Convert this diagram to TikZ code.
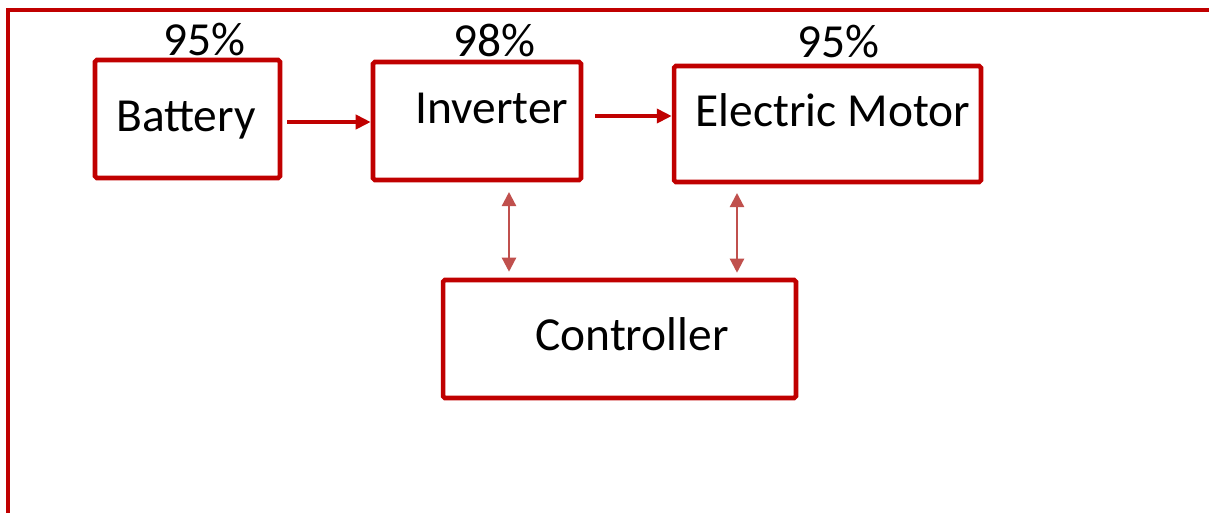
\documentclass[tikz,border=0pt]{standalone}
\usepackage{fontspec}
\setmainfont{Carlito}
\usepackage{xcolor}
\definecolor{boxred}{HTML}{C00000}
\definecolor{linkred}{HTML}{C0504D}
\usepackage{tikz}
\usetikzlibrary{arrows.meta,positioning,calc}

\begin{document}
\begin{tikzpicture}[x=0.02cm,y=-0.02cm,
    box/.style={draw=boxred,line width=2.6pt,rounded corners=1pt,inner sep=0pt},
    lbl/.style={font=\fontsize{27}{32}\selectfont,inner sep=0pt},
    flow/.style={-{Triangle[length=0.3cm,width=0.28cm]},boxred,line width=2.6pt},
    link/.style={{Triangle[length=0.28cm,width=0.28cm]}-{Triangle[length=0.28cm,width=0.28cm]},linkred,line width=1.3pt}]
  \useasboundingbox (0,0) rectangle (1209,512);
  % outer frame
  \draw[boxred,line width=2.8pt] (8,514) -- (8,10) -- (1212,10);
  % blocks
  \node[box,minimum width=3.7cm,minimum height=2.36cm] (bat) at (187.5,119) {};
  \node[box,minimum width=4.16cm,minimum height=2.36cm] (inv) at (477,121) {};
  \node[box,minimum width=6.14cm,minimum height=2.32cm] (mot) at (827.5,124) {};
  \node[box,minimum width=7.06cm,minimum height=2.36cm] (ctl) at (619.5,339) {};
  % block texts
  \node[lbl] (battxt) at (186,120) {Battery};
  \node[lbl] (invtxt) at (492,108) {Inverter};
  \node[lbl] (mottxt) at (833,110) {Electric Motor};
  \node[lbl] (ctltxt) at (632,334) {Controller};
  % efficiencies
  \node[lbl] (batpct) at (204,40) {95\%};
  \node[lbl] (invpct) at (494,40) {98\%};
  \node[lbl] (motpct) at (838,42) {95\%};
  % power flow
  \coordinate (f1) at ([xshift=0.1cm]bat.east |- 0,122);
  \coordinate (f2) at ([xshift=0.24cm]inv.east |- 0,116);
  \draw[flow] (f1) -- (inv.west |- f1);
  \draw[flow] (f2) -- (mot.west |- f2);
  % control links
  \coordinate (c1) at (509,192);
  \coordinate (c2) at (737,193);
  \draw[link] (c1) -- ([yshift=0.12cm]ctl.north -| c1);
  \draw[link] (c2) -- ([yshift=0.1cm]ctl.north -| c2);
\end{tikzpicture}
\end{document}
